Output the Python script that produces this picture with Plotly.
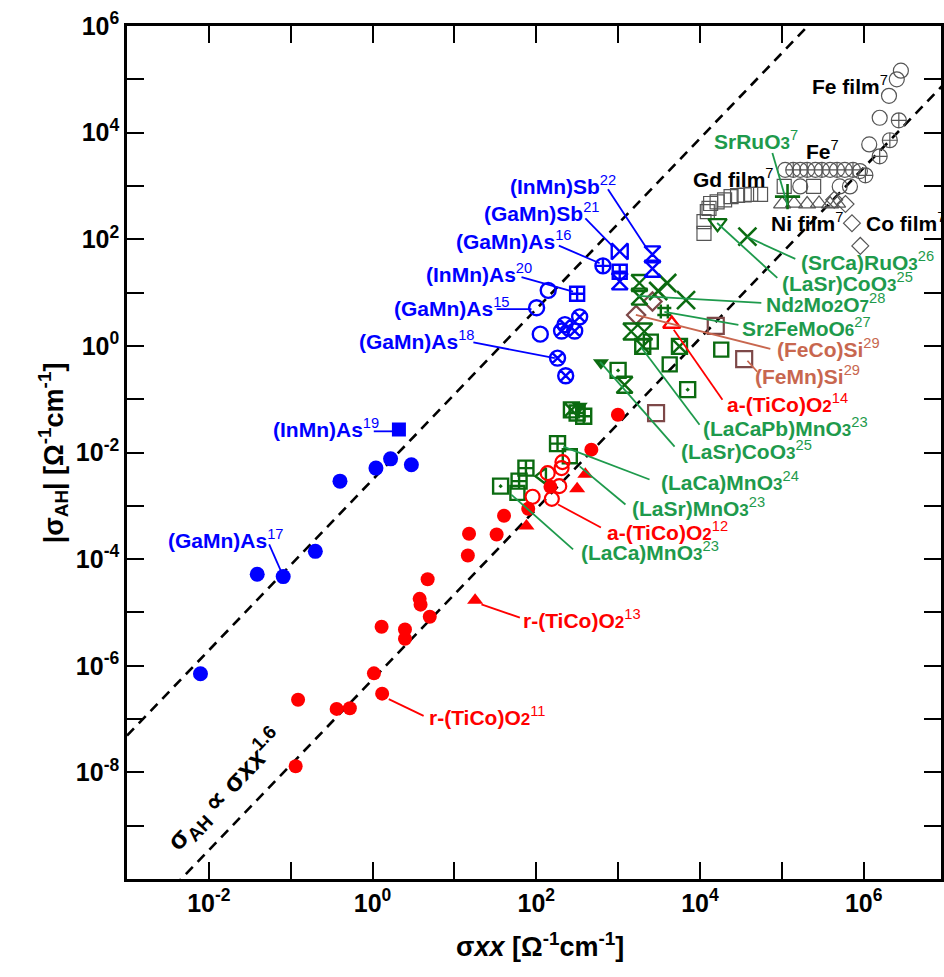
import plotly.graph_objects as go

FONT = "Liberation Sans"
BLUE = "#0000ff"
RED = "#ff0000"
DKGREEN = "#0b6b10"
LTGREEN = "#1e9a4c"
BROWN_M = "#7d4848"
BROWN_T = "#c8674f"
GREY = "#555555"

# ---------------- reference lines  sigma_AH = A * sigma_xx^1.6 ----------------
slope = 1.6
pref_upper = 10 ** -2.51
pref_lower = 10 ** -6.26
line_x = [1e-3, 1e7]

# ---------------- data (sigma_xx, |sigma_AH|) ----------------
# blue: (GaMn)As / (InMn)As / (GaMn)Sb / (InMn)Sb
blue_fill_x = [7.9e-3, 3.9e-2, 8.1e-2, 0.20, 0.40, 1.1, 1.66, 2.98]
blue_fill_y = [7.1e-7, 5.2e-5, 4.7e-5, 1.4e-4, 2.9e-3, 5.1e-3, 7.6e-3, 5.9e-3]
blue_sq_x = [2.1]
blue_sq_y = [2.7e-2]
blue_open_x = [101, 140, 112]
blue_open_y = [5.2, 11, 1.66]
blue_cx_x = [224, 204, 295, 339, 182, 229]
blue_cx_y = [2.5, 1.9, 1.9, 3.5, 0.59, 0.275]
blue_cp_x = [653]
blue_cp_y = [31.6]
blue_sqp_x = [316, 1047]
blue_sqp_y = [9.5, 24.5]
blue_bow_x = [1047]
blue_bow_y = [59]
blue_hg_x = [1047, 2630, 2630]
blue_hg_y = [16.2, 52, 28]

# red: TiCo oxides
red_fill_x = [4.71, 3.76, 3.86, 5.0, 1.29, 2.49, 2.49, 1.04, 1.31, 0.123, 0.364, 0.528, 0.115,
              14.6, 15.1, 32.8, 40.4, 79.8, 149, 471, 995]
red_fill_y = [4.2e-5, 1.8e-5, 1.4e-5, 8.3e-6, 5.4e-6, 4.8e-6, 3.2e-6, 7.2e-7, 3.0e-7, 2.3e-7, 1.55e-7, 1.6e-7, 1.3e-8,
              1.17e-4, 3.0e-4, 2.9e-4, 6.5e-4, 8.8e-4, 2.27e-3, 1.13e-2, 5.1e-2]
red_tri_x = [75.9, 316, 398, 17.9]
red_tri_y = [4.2e-4, 2.1e-3, 3.9e-3, 1.7e-5]
red_open_x = [90.2, 155, 191, 138, 204, 209]
red_open_y = [1.48e-3, 1.35e-3, 2.34e-3, 4.1e-3, 5.1e-3, 6.6e-3]
red_otri_x = [4520]
red_otri_y = [2.57]

# green: oxides
g_x_x = [38000, 3980, 6760, 3090]
g_x_y = [112, 15.1, 7.2, 10.7]
g_tdo_x = [16400]
g_tdo_y = [200]
g_plus_x = [117500]
g_plus_y = [631]
g_hg_x = [1820, 1820, 1445, 2090, 1200]
g_hg_y = [15.1, 8.4, 1.86, 1.86, 0.186]
g_hash_x = [3670]
g_hash_y = [4.4]
g_sqx_x = [2000, 5620, 269]
g_sqx_y = [0.98, 0.98, 0.063]
g_sq_x = [2510, 4270, 18200, 257, 58.9]
g_sq_y = [1.2, 0.45, 0.85, 8.5e-3, 1.75e-3]
g_sqd_x = [7080, 1000, 36.7]
g_sqd_y = [0.151, 0.347, 2.34e-3]
g_tdf_x = [617, 339]
g_tdf_y = [0.48, 0.074]
g_sqp_x = [380, 316, 182, 74.8, 61.7]
g_sqp_y = [0.048, 0.055, 0.0147, 5.1e-3, 2.9e-3]
g_tl_x = [119]
g_tl_y = [3.6e-3]

# brown: silicides
br_dia_x = [2630, 1660]
br_dia_y = [6.8, 3.8]
br_sq_x = [15600, 34700, 2910]
br_sq_y = [2.38, 0.566, 0.055]

# grey: metals
fefilm_x = [2.85e6, 2.54e6, 2.04e6, 1.57e6, 1.17e6,
            1.10e5, 1.68e5, 2.57e5, 3.89e5, 5.89e5, 9.0e5,
            1.68e5, 5.1e5, 6.8e5]
fefilm_y = [1.45e5, 1.0e5, 4.9e4, 1.9e4, 6.0e3,
            2.0e3, 2.0e3, 2.0e3, 2.0e3, 2.0e3, 1.9e3,
            980, 980, 980]
fe_cp_x = [2.69e6, 2.09e6, 1.57e6, 1.38e5, 2.04e5, 3.09e5, 4.73e5, 7.41e5, 1.05e6]
fe_cp_y = [1.7e4, 7.2e3, 3.6e3, 2.0e3, 2.0e3, 2.0e3, 2.0e3, 2.0e3, 1.58e3]
gd_x = [5.5e4, 4.17e4, 3.47e4, 2.88e4, 2.4e4, 2.0e4, 1.62e4, 1.35e4, 1.29e4, 1.23e4, 1.12e4, 1.12e4,
        1.07e5, 2.45e5]
gd_y = [692, 692, 676, 661, 631, 550, 501, 468, 380, 331, 214, 129,
        980, 980]
ni_x = [1.01e5, 1.41e5, 2.04e5, 2.85e5, 3.89e5, 4.73e5]
ni_y = [457, 470, 457, 470, 457, 470]
co_x = [4.37e5, 6.0e5, 7.2e5, 9.1e5]
co_y = [550, 457, 200, 75]

fig = go.Figure()

for pref in (pref_upper, pref_lower):
    fig.add_trace(go.Scatter(
        x=line_x, y=[pref * v ** slope for v in line_x], mode="lines",
        line=dict(color="black", width=2.6, dash="10px,7px"), hoverinfo="skip"))


def add(x, y, symbol, color, size, lw=2.2):
    fig.add_trace(go.Scatter(
        x=x, y=y, mode="markers", hoverinfo="skip",
        marker=dict(symbol=symbol, size=size, color=color,
                    line=dict(color=color, width=lw))))


# grey metals
add(gd_x, gd_y, "square-open", GREY, 14, 1.2)
add(ni_x, ni_y, "triangle-up-open", GREY, 15, 1.2)
add(co_x, co_y, "diamond-open", GREY, 13, 1.2)
add(fefilm_x, fefilm_y, "circle-open", GREY, 15, 1.2)
add(fe_cp_x, fe_cp_y, "circle-cross-open", GREY, 15, 1.2)

# brown
add(br_dia_x, br_dia_y, "diamond-open", BROWN_M, 14, 2.2)
add(br_sq_x, br_sq_y, "square-open", BROWN_M, 16, 2.2)

# green
add(g_x_x, g_x_y, "x-thin-open", DKGREEN, 18, 2.6)
add(g_tdo_x, g_tdo_y, "triangle-down-open", DKGREEN, 16, 2.2)
add(g_plus_x, g_plus_y, "cross-thin-open", DKGREEN, 18, 2.6)
add(g_hg_x, g_hg_y, "hourglass-open", DKGREEN, 16, 2.4)
add(g_hash_x, g_hash_y, "hash-open", DKGREEN, 14, 2.4)
add(g_sqx_x, g_sqx_y, "square-x-open", DKGREEN, 15, 2.4)
add(g_sq_x, g_sq_y, "square-open", DKGREEN, 14, 2.4)
add(g_sqd_x, g_sqd_y, "square-open-dot", DKGREEN, 15, 2.4)
add(g_tdf_x, g_tdf_y, "triangle-down", DKGREEN, 14, 0)
add(g_sqp_x, g_sqp_y, "square-cross-open", DKGREEN, 15, 2.4)
add(g_tl_x, g_tl_y, "triangle-left-open", DKGREEN, 14, 2.4)

# red
add(red_fill_x, red_fill_y, "circle", RED, 14, 0)
add(red_tri_x, red_tri_y, "triangle-up", RED, 14, 0)
add(red_open_x, red_open_y, "circle-open", RED, 14, 2.2)
add(red_otri_x, red_otri_y, "triangle-up-open", RED, 15, 2.4)

# blue
add(blue_fill_x, blue_fill_y, "circle", BLUE, 15, 0)
add(blue_sq_x, blue_sq_y, "square", BLUE, 14, 0)
add(blue_open_x, blue_open_y, "circle-open", BLUE, 15, 2.4)
add(blue_cx_x, blue_cx_y, "circle-x-open", BLUE, 15, 2.4)
add(blue_cp_x, blue_cp_y, "circle-cross-open", BLUE, 15, 2.4)
add(blue_sqp_x, blue_sqp_y, "square-cross-open", BLUE, 14, 2.4)
add(blue_bow_x, blue_bow_y, "bowtie-open", BLUE, 16, 2.4)
add(blue_hg_x, blue_hg_y, "hourglass-open", BLUE, 16, 2.4)


def sm(d):
    return "<span style='font-size:17px'>" + d + "</span>"


# labels: text, colour, left x (log10), middle y (log10), leader line (log10 x0, y0, x1, y1)
labels = [
    ("<b>Fe film</b><sup>7</sup>", "black", 5.347, 4.89, None),
    ("<b>Fe</b><sup>7</sup>", "black", 5.273, 3.67, None),
    ("<b>Gd film</b><sup>7</sup>", "black", 3.885, 3.15, None),
    ("<b>Ni film</b><sup>7</sup>", "black", 4.847, 2.32, None),
    ("<b>Co film</b><sup>7</sup>", "black", 6.004, 2.32, None),
    ("<b>SrRuO" + sm("3") + "</b><sup>7</sup>", LTGREEN, 4.152, 3.86, (4.885, 3.616, 5.07, 2.64)),
    ("<b>(SrCa)RuO" + sm("3") + "</b><sup>26</sup>", LTGREEN, 5.21, 1.594, (4.58, 2.043, 5.165, 1.631)),
    ("<b>(LaSr)CoO" + sm("3") + "</b><sup>25</sup>", LTGREEN, 4.98, 1.2, (4.21, 2.305, 4.945, 1.275)),
    ("<b>Nd" + sm("2") + "Mo" + sm("2") + "O" + sm("7") + "</b><sup>28</sup>", LTGREEN, 4.786, 0.807, (3.24, 0.938, 4.75, 0.807)),
    ("<b>Sr" + sm("2") + "FeMoO" + sm("6") + "</b><sup>27</sup>", LTGREEN, 4.494, 0.358, (3.565, 0.639, 4.47, 0.395)),
    ("<b>(FeCo)Si</b><sup>29</sup>", BROWN_T, 4.92, -0.036, (3.217, 0.582, 4.86, -0.055)),
    ("<b>(FeMn)Si</b><sup>29</sup>", BROWN_T, 4.653, -0.541, (4.58, -0.279, 4.70, -0.485)),
    ("<b>a-(TiCo)O" + sm("2") + "</b><sup>14</sup>", RED, 4.30, -1.066, (3.68, 0.301, 4.275, -1.009)),
    ("<b>(LaCaPb)MnO" + sm("3") + "</b><sup>23</sup>", LTGREEN, 4.007, -1.515, (3.277, -0.017, 3.995, -1.478)),
    ("<b>(LaSr)CoO" + sm("3") + "</b><sup>25</sup>", LTGREEN, 3.74, -1.946, (2.78, -0.30, 3.69, -1.89)),
    ("<b>(LaCa)MnO" + sm("3") + "</b><sup>24</sup>", LTGREEN, 3.497, -2.526, (2.33, -1.89, 3.384, -2.507)),
    ("<b>(LaSr)MnO" + sm("3") + "</b><sup>23</sup>", LTGREEN, 3.142, -3.013, (2.53, -2.26, 3.09, -2.976)),
    ("<b>a-(TiCo)O" + sm("2") + "</b><sup>12</sup>", RED, 2.839, -3.481, (2.267, -2.976, 2.79, -3.406)),
    ("<b>(LaCa)MnO" + sm("3") + "</b><sup>23</sup>", LTGREEN, 2.526, -3.856, (1.695, -2.789, 2.45, -3.818)),
    ("<b>r-(TiCo)O" + sm("2") + "</b><sup>13</sup>", RED, 1.817, -5.129, (1.33, -4.848, 1.80, -5.097)),
    ("<b>r-(TiCo)O" + sm("2") + "</b><sup>11</sup>", RED, 0.664, -6.94, (0.198, -6.627, 0.624, -6.94)),
    ("<b>(GaMn)As</b><sup>17</sup>", BLUE, -2.529, -3.631, (-1.263, -3.725, -1.101, -4.286)),
    ("<b>(InMn)As</b><sup>19</sup>", BLUE, -1.242, -1.539, (0.015, -1.603, 0.238, -1.603)),
    ("<b>(GaMn)As</b><sup>18</sup>", BLUE, -0.188, 0.114, (1.232, 0.064, 2.227, -0.229)),
    ("<b>(GaMn)As</b><sup>15</sup>", BLUE, 0.238, 0.738, (1.516, 0.689, 1.942, 0.689)),
    ("<b>(InMn)As</b><sup>20</sup>", BLUE, 0.624, 1.363, (1.82, 1.288, 2.45, 1.019)),
    ("<b>(GaMn)As</b><sup>16</sup>", BLUE, 1.001, 1.987, (2.276, 1.88, 2.775, 1.55)),
    ("<b>(GaMn)Sb</b><sup>21</sup>", BLUE, 1.342, 2.517, (2.6, 2.393, 2.937, 1.861)),
    ("<b>(InMn)Sb</b><sup>22</sup>", BLUE, 1.659, 3.017, (2.876, 2.936, 3.363, 1.8)),
]

# leader lines and label texts
for text, col, lx, ly, ln in labels:
    if ln is not None:
        fig.add_trace(go.Scatter(
            x=[10 ** ln[0], 10 ** ln[2]], y=[10 ** ln[1], 10 ** ln[3]], mode="lines",
            line=dict(color=col, width=1.8), hoverinfo="skip"))
    fig.add_annotation(x=lx, y=ly, xref="x", yref="y", text=text, showarrow=False,
                       xanchor="left", yanchor="middle",
                       font=dict(family=FONT, size=21, color=col))

# scaling-law label along the line
fig.add_annotation(x=-1.80, y=-8.33, xref="x", yref="y", showarrow=False, textangle=-46,
                   text="<b>σ<sub>AH</sub> ∝ σ<i>xx</i><sup>1.6</sup></b>",
                   font=dict(family=FONT, size=27, color="black"))

# axis titles
fig.add_annotation(x=2.046, y=-0.077, xref="x", yref="paper", showarrow=False,
                   text="<b>σ<i>xx</i> [Ω<sup>-1</sup>cm<sup>-1</sup>]</b>", yanchor="middle",
                   font=dict(family=FONT, size=27, color="black"))
fig.add_annotation(x=-0.117, y=0.5, xref="paper", yref="paper", showarrow=False, textangle=-90,
                   text="<b>|σ<sub>AH</sub>| [Ω<sup>-1</sup>cm<sup>-1</sup>]</b>",
                   font=dict(family=FONT, size=27, color="black"))

x_major = [-2, 0, 2, 4, 6]
y_major = [-8, -6, -4, -2, 0, 2, 4, 6]
xt_vals = [10.0 ** k for k in x_major]
xt_text = ["<b>10<sup>%d</sup></b>" % k for k in x_major]
yt_vals = [10.0 ** k for k in y_major]
yt_text = ["<b>10<sup>%d</sup></b>" % k for k in y_major]
x_minor = [10.0 ** k for k in range(-3, 7) if k not in x_major]
y_minor = [10.0 ** k for k in range(-10, 7) if k not in y_major]

axis_common = dict(showgrid=False, zeroline=False, showline=True, linecolor="black", linewidth=2.6,
                   ticks="inside", ticklen=17, tickwidth=2, tickcolor="black", mirror="ticks",
                   tickfont=dict(family=FONT, size=25, color="black"))
fig.update_xaxes(type="log", range=[-3, 6.945], tickmode="array", tickvals=xt_vals, ticktext=xt_text,
                 minor=dict(tickmode="array", tickvals=x_minor, ticks="inside", ticklen=17, tickwidth=2,
                            tickcolor="black", showgrid=False),
                 **axis_common)
fig.update_yaxes(type="log", range=[-10, 6], tickmode="array", tickvals=yt_vals, ticktext=yt_text,
                 minor=dict(tickmode="array", tickvals=y_minor, ticks="inside", ticklen=17, tickwidth=2,
                            tickcolor="black", showgrid=False),
                 **axis_common)

fig.update_layout(width=944, height=977, margin=dict(l=127, r=0, t=26, b=98),
                  plot_bgcolor="white", paper_bgcolor="white", showlegend=False,
                  hovermode=False, font=dict(family=FONT))

fig.write_html("out.html", config={"displayModeBar": False},
               post_script="document.body.style.margin='0';")
